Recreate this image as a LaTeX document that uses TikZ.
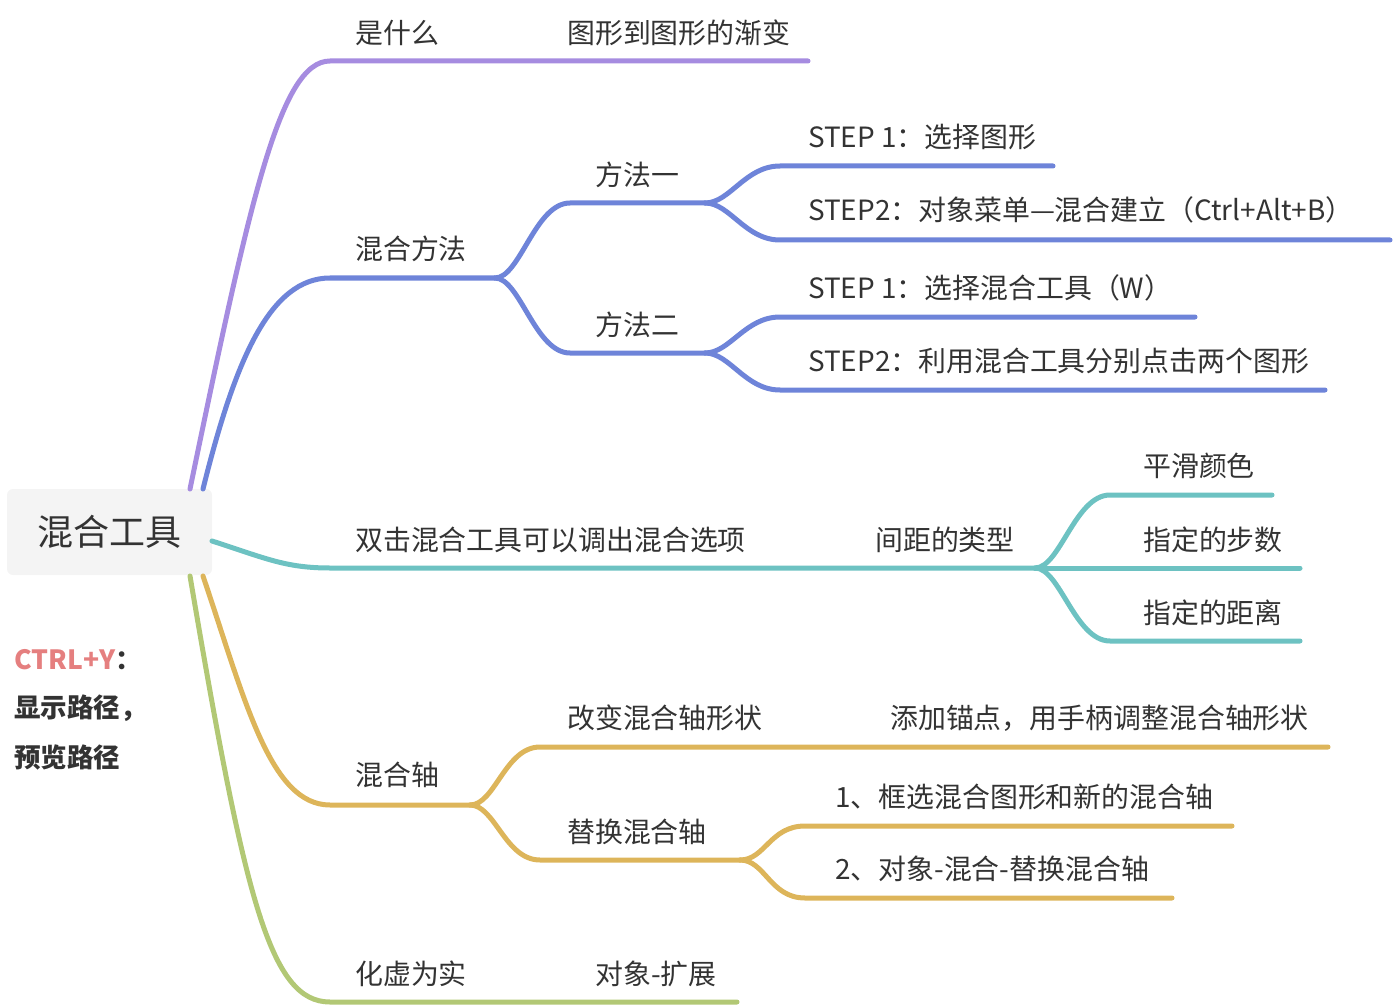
\documentclass[tikz,border=0pt]{standalone}
\usepackage{fontspec}
\setmainfont{Noto Sans CJK SC}
\usetikzlibrary{calc}
\definecolor{cpur}{HTML}{A68CE0}
\definecolor{cblu}{HTML}{6E84D9}
\definecolor{ctea}{HTML}{6DC2C2}
\definecolor{cgol}{HTML}{DDB55A}
\definecolor{cgre}{HTML}{B2C875}
\definecolor{cpink}{HTML}{E57F7F}
\definecolor{ctxt}{HTML}{333333}
\definecolor{croot}{HTML}{F4F4F4}
\begin{document}
\begin{tikzpicture}[x=1pt,y=-1pt,
  br/.style={line width=5pt,line cap=round},
  lbl/.style={anchor=west,inner sep=0pt,text=ctxt,font=\fontsize{27.9}{30}\selectfont},
  note/.style={anchor=west,inner sep=0pt,text=ctxt,font=\fontsize{26.5}{28}\selectfont\bfseries},
  rootbox/.style={fill=croot,rounded corners=6pt,minimum width=205pt,minimum height=86pt,inner sep=0pt,text=ctxt,font=\fontsize{36}{40}\selectfont}]
\useasboundingbox (0,0) rectangle (1394,1008);

% root
\node[rootbox] (root) at (109.5,532) {混合工具};
\coordinate (r1) at (190,489);
\coordinate (r2) at (203,489);
\coordinate (r3) at (212,541);
\coordinate (r4) at (203,576);
\coordinate (r5) at (190,576);

% labels
\node[lbl] (shi) at (355,33) {是什么};
\node[lbl] (shiA) at (567,33) {图形到图形的渐变};
\node[lbl] (ff) at (355,249) {混合方法};
\node[lbl] (ff1) at (595,175) {方法一};
\node[lbl] (ff2) at (595,325) {方法二};
\node[lbl] (s1a) at (808,137) {STEP 1：选择图形};
\node[lbl] (s2a) at (808,210) {STEP2：对象菜单—混合建立（Ctrl+Alt+B）};
\node[lbl] (s1b) at (808,288) {STEP 1：选择混合工具（W）};
\node[lbl] (s2b) at (808,361) {STEP2：利用混合工具分别点击两个图形};
\node[lbl] (sj) at (355,540) {双击混合工具可以调出混合选项};
\node[lbl] (jj) at (875,540) {间距的类型};
\node[lbl] (jj1) at (1143,466) {平滑颜色};
\node[lbl] (jj2) at (1143,540) {指定的步数};
\node[lbl] (jj3) at (1143,613) {指定的距离};
\node[lbl] (zh) at (355,775) {混合轴};
\node[lbl] (zh1) at (567,718) {改变混合轴形状};
\node[lbl] (zh1a) at (890,718) {添加锚点，用手柄调整混合轴形状};
\node[lbl] (zh2) at (567,832) {替换混合轴};
\node[lbl] (zh2a) at (835,797) {1、框选混合图形和新的混合轴};
\node[lbl] (zh2b) at (835,869) {2、对象-混合-替换混合轴};
\node[lbl] (hx) at (355,974) {化虚为实};
\node[lbl] (hxa) at (595,974) {对象-扩展};
\node[note] (n1) at (14,660) {\textcolor{cpink}{CTRL+Y}：};
\node[note] (n2) at (14,708) {显示路径，};
\node[note] (n3) at (14,757) {预览路径};

% coordinates of branch lines
\coordinate (p1) at (330,61);   \coordinate (p1e) at (808,61);
\coordinate (b1) at (330,278);  \coordinate (b1e) at (495,278);
\coordinate (b2) at (570,203);  \coordinate (b2e) at (705,203);
\coordinate (b3) at (570,353);  \coordinate (b3e) at (705,353);
\coordinate (b4) at (780,166);  \coordinate (b4e) at (1053,166);
\coordinate (b5) at (780,240);  \coordinate (b5e) at (1390,240);
\coordinate (b6) at (780,317);  \coordinate (b6e) at (1195,317);
\coordinate (b7) at (780,390);  \coordinate (b7e) at (1325,390);
\coordinate (t1) at (330,568);  \coordinate (t1e) at (1035,568);
\coordinate (t2) at (1110,495); \coordinate (t2e) at (1272,495);
\coordinate (t3e) at (1300,568);
\coordinate (t4) at (1110,641); \coordinate (t4e) at (1300,641);
\coordinate (g1) at (330,805);  \coordinate (g1e) at (470,805);
\coordinate (g2) at (540,747);  \coordinate (g2e) at (1328,747);
\coordinate (g3) at (540,860);  \coordinate (g3e) at (740,860);
\coordinate (g4) at (805,826);  \coordinate (g4e) at (1232,826);
\coordinate (g5) at (805,898);  \coordinate (g5e) at (1172,898);
\coordinate (e1) at (330,1002); \coordinate (e1e) at (737,1002);

% purple
\draw[br,cpur] (r1) .. controls (250,200) and (280,61) .. (p1) -- (p1e);
% blue
\draw[br,cblu] (r2) .. controls (235,360) and (270,278) .. (b1) -- (b1e);
\draw[br,cblu] (b1e) .. controls +(25,0) and +(-35,0) .. (b2) -- (b2e);
\draw[br,cblu] (b1e) .. controls +(25,0) and +(-35,0) .. (b3) -- (b3e);
\draw[br,cblu] (b2e) .. controls +(25,0) and +(-35,0) .. (b4) -- (b4e);
\draw[br,cblu] (b2e) .. controls +(25,0) and +(-35,0) .. (b5) -- (b5e);
\draw[br,cblu] (b3e) .. controls +(25,0) and +(-35,0) .. (b6) -- (b6e);
\draw[br,cblu] (b3e) .. controls +(25,0) and +(-35,0) .. (b7) -- (b7e);
% teal
\draw[br,ctea] (r3) .. controls (265,558) and (285,568) .. (t1) -- (t1e);
\draw[br,ctea] (t1e) .. controls +(25,0) and +(-35,0) .. (t2) -- (t2e);
\draw[br,ctea] (t1e) -- (t3e);
\draw[br,ctea] (t1e) .. controls +(25,0) and +(-35,0) .. (t4) -- (t4e);
% gold
\draw[br,cgol] (r4) .. controls (245,700) and (270,805) .. (g1) -- (g1e);
\draw[br,cgol] (g1e) .. controls +(25,0) and +(-35,0) .. (g2) -- (g2e);
\draw[br,cgol] (g1e) .. controls +(25,0) and +(-35,0) .. (g3) -- (g3e);
\draw[br,cgol] (g3e) .. controls +(25,0) and +(-35,0) .. (g4) -- (g4e);
\draw[br,cgol] (g3e) .. controls +(25,0) and +(-35,0) .. (g5) -- (g5e);
% green
\draw[br,cgre] (r5) .. controls (245,900) and (270,1002) .. (e1) -- (e1e);
\end{tikzpicture}
\end{document}
